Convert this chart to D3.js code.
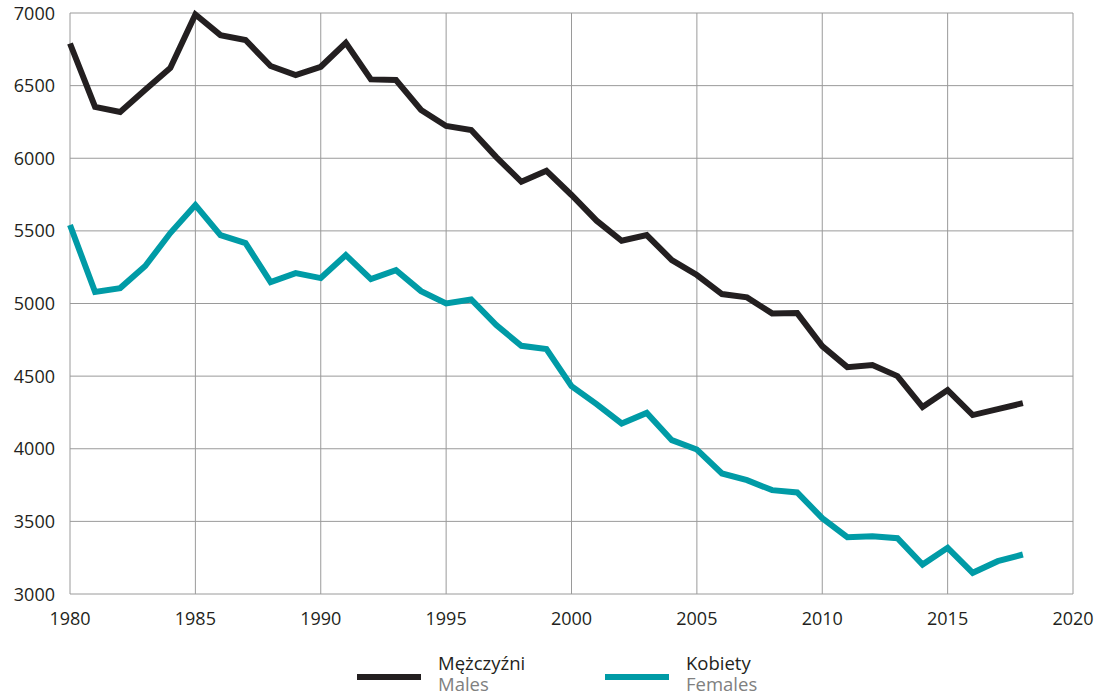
<!DOCTYPE html>
<html>
<head>
<meta charset="utf-8">
<script src="https://cdn.jsdelivr.net/npm/d3@7"></script>
<style>
  body { margin: 0; background: #fff; }
  svg text { font-family: "Open Sans", "Noto Sans", sans-serif; }
</style>
</head>
<body>
<svg id="chart" width="1109" height="697"></svg>
<script>
const years = d3.range(1980, 2019);
const males = [6790, 6353, 6318, 6472, 6622, 6990, 6848, 6814, 6635, 6573,
  6630, 6795, 6543, 6539, 6332, 6222, 6194, 6008, 5838, 5914,
  5747, 5570, 5432, 5471, 5299, 5196, 5065, 5042, 4932, 4934,
  4707, 4562, 4576, 4500, 4287, 4404, 4232, 4273, 4314];
const females = [5540, 5079, 5106, 5258, 5485, 5678, 5471, 5416, 5147, 5209,
  5175, 5333, 5168, 5230, 5085, 5000, 5028, 4851, 4709, 4686,
  4431, 4307, 4174, 4247, 4059, 3995, 3830, 3784, 3715, 3699,
  3522, 3391, 3398, 3384, 3203, 3318, 3146, 3226, 3272];
const xTicks = d3.range(1980, 2021, 5);
const yTicks = d3.range(3000, 7001, 500);
const series = [
  { name: "Mężczyźni", en: "Males", values: males, color: "#231f20" },
  { name: "Kobiety", en: "Females", values: females, color: "#009ba6" }
];

const svg = d3.select("#chart");
const plotL = 70, plotR = 1073, plotT = 13, plotB = 594;

const x = d3.scaleLinear().domain([1980, 2020]).range([plotL, plotR]);
const y = d3.scaleLinear().domain([3000, 7000]).range([plotB, plotT]);

// grid
const grid = svg.append("g").attr("stroke", "#9a9a9a").attr("stroke-width", 1);
grid.selectAll(".gx").data(xTicks).join("line")
  .attr("x1", d => x(d)).attr("x2", d => x(d))
  .attr("y1", plotT).attr("y2", plotB);
grid.selectAll(".gy").data(yTicks).join("line")
  .attr("x1", plotL).attr("x2", plotR)
  .attr("y1", d => y(d)).attr("y2", d => y(d));

// axis labels
svg.append("g").selectAll("text").data(yTicks).join("text")
  .attr("x", 55).attr("y", d => y(d) + 6.5)
  .attr("text-anchor", "end")
  .style("font-size", "18px").style("fill", "#231f20")
  .text(d => d);
svg.append("g").selectAll("text").data(xTicks).join("text")
  .attr("x", d => x(d)).attr("y", 625)
  .attr("text-anchor", "middle")
  .style("font-size", "18px").style("fill", "#231f20")
  .text(d => d);

// lines
const line = d3.line().x((d, i) => x(years[i])).y(d => y(d));
series.forEach(s => {
  svg.append("path")
    .datum(s.values)
    .attr("d", line)
    .attr("fill", "none")
    .attr("stroke", s.color)
    .attr("stroke-width", 6)
    .attr("stroke-linejoin", "miter");
});

// legend
const legendX = [357, 605];
series.forEach((s, i) => {
  const g = svg.append("g").attr("transform", "translate(" + legendX[i] + ",0)");
  g.append("line")
    .attr("x1", 0).attr("x2", 64).attr("y1", 677).attr("y2", 677)
    .attr("stroke", s.color).attr("stroke-width", 6);
  g.append("text").attr("x", 81).attr("y", 670)
    .style("font-size", "18.5px").style("fill", "#231f20").text(s.name);
  g.append("text").attr("x", 81).attr("y", 691)
    .style("font-size", "18.5px").style("fill", "#808080").text(s.en);
});
</script>
</body>
</html>
